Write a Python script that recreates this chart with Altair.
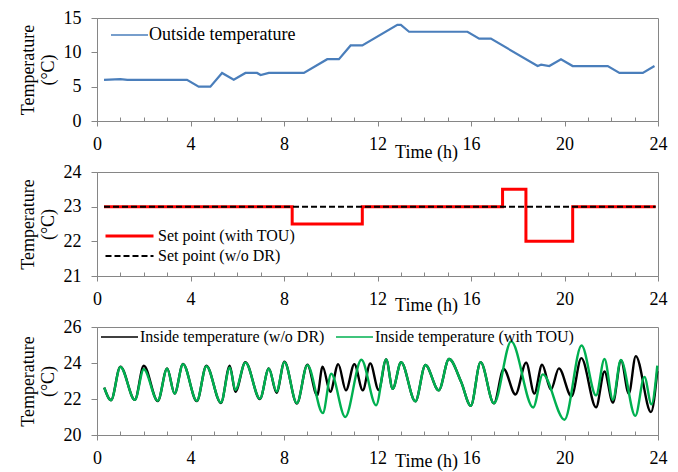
import altair as alt
import pandas as pd

# ---------------- data ----------------
out_hours = [0.3, 1.0, 1.3, 3.85, 4.35, 4.85, 5.35, 5.85, 6.35, 6.85, 7.0, 7.35, 8.85,
             9.85, 10.35, 10.85, 11.35, 12.85, 13.0, 13.35, 15.85, 16.35, 16.85, 18.85,
             19.0, 19.35, 19.85, 20.35, 21.85, 22.35, 23.35, 23.85]
out_temp = [6, 6.1, 6, 6, 5, 5, 7, 6, 7, 7, 6.7, 7, 7,
            9, 9, 11, 11, 14, 14, 13, 13, 12, 12, 8,
            8.2, 8, 9, 8, 8, 7, 7, 8]

tou_hours = [0.3, 8.35, 11.35, 17.35, 18.35, 20.35, 23.9]
tou_set = [23, 22.5, 23, 23.5, 22, 23, 23]
wodr_hours = [0.3, 23.9]
wodr_set = [23, 23]

in_wodr_hours = [0.31, 0.6, 1.0, 1.62, 2.0, 2.6, 3.0, 3.32, 3.68, 4.27, 4.68, 5.3, 5.68,
                 5.92, 6.35, 6.97, 7.35, 7.68, 8.02, 8.55, 9.0, 9.42, 9.65, 9.98, 10.32,
                 10.65, 11.01, 11.37, 11.69, 12.05, 12.37, 12.65, 13.01, 13.62, 14.05,
                 14.62, 15.06, 15.58, 15.99, 16.41, 16.98, 17.4, 17.9, 18.36, 18.71,
                 19.04, 19.42, 19.76, 20.3, 20.72, 21.35, 21.71, 22.07, 22.42, 22.75,
                 23.05, 23.7, 23.97]
in_wodr_temp = [22.63, 21.93, 23.8, 21.95, 23.85, 21.88, 23.7, 22.3, 23.95, 21.88, 23.85,
                21.78, 23.85, 22.4, 24.05, 22.0, 23.7, 22.35, 24.07, 21.75, 23.9, 22.2,
                23.8, 22.4, 23.94, 22.48, 23.94, 22.48, 23.98, 22.5, 24.2, 22.57, 24.04,
                21.87, 23.89, 22.48, 24.22, 22.94, 21.62, 24.05, 21.76, 23.67, 22.25,
                24.02, 22.3, 23.9, 22.52, 23.7, 22.15, 24.27, 21.54, 23.53, 21.8, 24.15,
                22.3, 24.38, 21.27, 23.55]

in_tou_hours = [0.31, 0.6, 1.0, 1.62, 2.0, 2.6, 3.0, 3.32, 3.68, 4.27, 4.68, 5.3, 5.68,
                5.92, 6.35, 6.97, 7.35, 7.68, 8.02, 8.55, 9.0, 9.66, 10.02, 10.62, 11.31,
                11.94, 12.37, 12.65, 13.01, 13.62, 14.05, 14.62, 15.06, 15.58, 15.99,
                16.41, 16.98, 17.72, 18.66, 19.07, 20.0, 20.73, 21.35, 21.71, 22.07,
                22.41, 23.03, 23.42, 23.72, 23.97]
in_tou_temp = [22.63, 21.93, 23.78, 21.95, 23.65, 21.9, 23.68, 22.3, 23.93, 21.9, 23.82,
               21.8, 23.75, 22.5, 24.02, 22.02, 23.68, 22.42, 24.05, 21.77, 23.88, 21.22,
               23.4, 21.0, 24.18, 21.65, 24.2, 22.57, 24.04, 21.87, 23.89, 22.48, 24.22,
               22.94, 21.62, 24.05, 21.76, 25.2, 21.53, 23.37, 20.85, 24.97, 22.2, 24.22,
               21.96, 24.17, 21.06, 23.23, 21.7, 23.85]

S_OUT = "Outside temperature"
S_TOU = "Set point (with TOU)"
S_WODR = "Set point (w/o DR)"
I_WODR = "Inside temperature (w/o DR)"
I_TOU = "Inside temperature (with TOU)"

df_out = pd.DataFrame({"h": out_hours, "t": out_temp, "s": S_OUT})
df_set = pd.concat([
    pd.DataFrame({"h": tou_hours, "t": tou_set, "s": S_TOU}),
    pd.DataFrame({"h": wodr_hours, "t": wodr_set, "s": S_WODR}),
])
df_in = pd.concat([
    pd.DataFrame({"h": in_wodr_hours, "t": in_wodr_temp, "s": I_WODR}),
    pd.DataFrame({"h": in_tou_hours, "t": in_tou_temp, "s": I_TOU}),
])

# ---------------- style ----------------
FONT = "Liberation Serif"
AX = "#868686"
W = 561
FS = 18


def x_enc(title_y):
    return alt.X(
        "h:Q",
        scale=alt.Scale(domain=[0, 24], nice=False),
        axis=alt.Axis(
            values=list(range(25)),
            labelExpr="datum.value % 4 === 0 ? datum.label : ''",
            labelOverlap=False,
            labelFlush=False,
            tickSize={"condition": {"test": "datum.value % 4 === 0", "value": 5}, "value": -4},
            labelPadding=9,
            title="Time (h)",
            titleX=329,
            titleY=title_y,
            titleBaseline="middle",
            titleAlign="center",
        ),
    )


def y_enc(lo, hi, vals):
    return alt.Y(
        "t:Q",
        scale=alt.Scale(domain=[lo, hi], nice=False, zero=False),
        axis=alt.Axis(
            values=vals,
            tickSize=6,
            labelPadding=10,
            title=["Temperature", "(°C)"],
            titleLineHeight=20,
            titlePadding=6,
        ),
    )


def legend(x, y, size, cols=1, offset=2, fs=FS):
    return alt.Legend(
        orient="none", legendX=x, legendY=y, title=None, symbolSize=size,
        clipHeight=20, padding=0, labelOffset=offset, columns=cols, columnPadding=10,
        rowPadding=0, symbolType="stroke", labelFont=FONT, labelFontSize=fs,
        labelColor="black", labelLimit=400,
    )


# top panel
top = alt.Chart(df_out).mark_line(strokeWidth=2.2).encode(
    x=x_enc(31),
    y=y_enc(0, 15, [0, 5, 10, 15]),
    color=alt.Color("s:N", scale=alt.Scale(domain=[S_OUT], range=["#4a7ebb"]),
                    legend=legend(13, 7, 1369, offset=0)),
).properties(width=W, height=103)

# middle panel
set_dom = [S_TOU, S_WODR]
leg_mid = legend(7, 54, 2304, offset=3, fs=16)
mid_enc = dict(
    x=x_enc(29),
    y=y_enc(21, 24, [21, 22, 23, 24]),
    color=alt.Color("s:N", scale=alt.Scale(domain=set_dom, range=["#ff0000", "#000000"]),
                    legend=leg_mid),
    strokeDash=alt.StrokeDash("s:N", scale=alt.Scale(domain=set_dom, range=[[1, 0], [6, 3]]),
                              legend=leg_mid),
    strokeWidth=alt.StrokeWidth("s:N", scale=alt.Scale(domain=set_dom, range=[3, 2]),
                                legend=leg_mid),
)
mid_red = alt.Chart(df_set).transform_filter(alt.datum.s == S_TOU).mark_line(
    interpolate="step-after").encode(**mid_enc)
mid_blk = alt.Chart(df_set).transform_filter(alt.datum.s == S_WODR).mark_line().encode(**mid_enc)
mid = alt.layer(mid_red, mid_blk).properties(width=W, height=104)

# bottom panel
in_dom = [I_WODR, I_TOU]
bot_enc = dict(
    x=x_enc(26),
    y=y_enc(20, 26, [20, 22, 24, 26]),
    color=alt.Color("s:N", scale=alt.Scale(domain=in_dom, range=["#000000", "#00b050"]),
                    legend=legend(3, 0, 1369, cols=2, offset=1, fs=16)),
)
bot_blk = alt.Chart(df_in).transform_filter(alt.datum.s == I_WODR).mark_line(
    interpolate="monotone", strokeWidth=2.4).encode(**bot_enc)
bot_grn = alt.Chart(df_in).transform_filter(alt.datum.s == I_TOU).mark_line(
    interpolate="monotone", strokeWidth=2.4).encode(**bot_enc)
bot = alt.layer(bot_blk, bot_grn).properties(width=W, height=108)

chart = alt.vconcat(top, mid, bot, spacing=51, bounds="flush").resolve_scale(
    color="independent", strokeDash="independent", strokeWidth="independent"
).resolve_legend(
    color="independent", strokeDash="independent", strokeWidth="independent"
).properties(
    padding={"left": 10, "top": 0, "right": 0, "bottom": 0}
).configure(
    font=FONT
).configure_view(
    stroke=AX, strokeWidth=1
).configure_axis(
    labelFont=FONT, titleFont=FONT, labelFontSize=FS, titleFontSize=FS,
    labelColor="black", titleColor="black", titleFontWeight="normal",
    domainColor=AX, tickColor=AX, grid=False, domainWidth=1, tickWidth=1,
).configure_legend(
    labelFont=FONT, labelColor="black", labelLimit=400,
)

chart.save("out.html", embed_options={"renderer": "svg", "actions": False})
